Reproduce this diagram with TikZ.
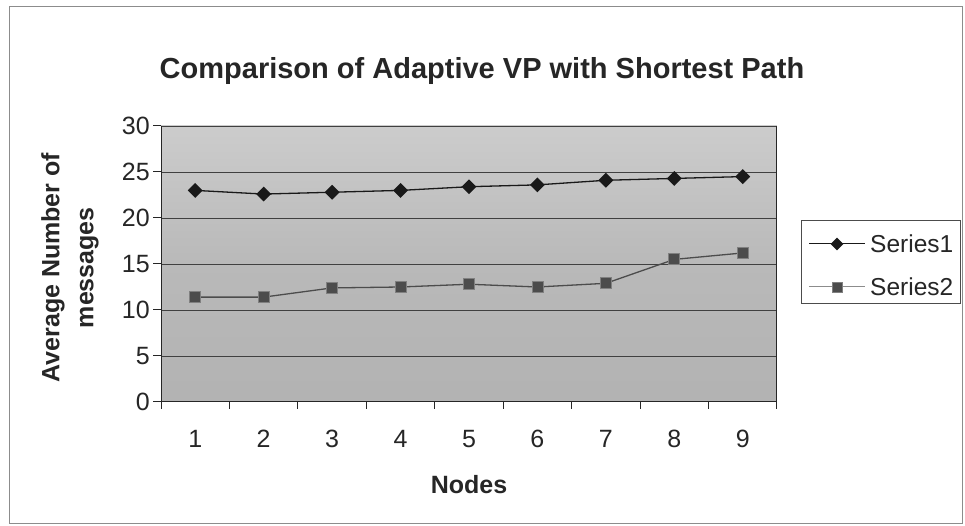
\documentclass[tikz,border=0pt]{standalone}
\usepackage{fontspec}
\setmainfont{Liberation Sans}
\usetikzlibrary{positioning, shapes.geometric}
\tikzset{
    grid line/.style={black!75, line width=0.9pt},
    tick label/.style={font=\fontsize{25}{28}\selectfont, text=black!85, inner sep=2pt},
    axis title/.style={font=\fontsize{25}{34}\selectfont\bfseries, text=black!85, inner sep=2pt, align=center},
    s1 mark/.style={diamond, fill=black!90, inner sep=0pt, minimum size=15pt},
    s2 mark/.style={rectangle, fill=black!70, draw=black!50, line width=0.8pt, inner sep=0pt, minimum size=11pt},
    s1 line/.style={black!90, line width=1.3pt},
    s2 line/.style={black!70, line width=1.3pt},
}

\begin{document}
\begin{tikzpicture}[x=1pt, y=1pt]
\useasboundingbox (0,0) rectangle (965,526);
\fill[white] (0,0) rectangle (965,526);

% chart frame
\draw[black!45, line width=0.8pt] (9,3) rectangle (962,520);

\node[font=\fontsize{29}{32}\selectfont\bfseries, text=black!85] (title) at (482,455)
    {Comparison of Adaptive VP with Shortest Path};

% plot area, one unit = one category / one message
\begin{scope}[shift={(161,124)}, x=68.44pt, y=9.2pt]
    \shade[top color=gray!40, bottom color=gray!60, middle color=gray!55] (0,0) rectangle (9,30);
    \foreach \v in {5,10,...,30}
        \draw[grid line] (0,\v) -- (9,\v);
    \draw[black!85, line width=1pt] (0,30) -- (0,0) -- (9,0) -- (9,30);

    % y ticks and labels
    \foreach \v in {0,5,...,30} {
        \draw[black!85, line width=1pt] (0,\v) -- ++(-8pt,0);
        \node[tick label, anchor=east] (yl\v) at ([xshift=-9pt]0,\v) {\v};
    }
    % x ticks and labels
    \foreach \i in {0,...,9}
        \draw[black!85, line width=1pt] (\i,0) -- ++(0,-7pt);
    \foreach \i in {1,...,9}
        \node[tick label] (xl\i) at ([yshift=-37pt]\i-0.5,0) {\i};

    \node[axis title, below=23pt of xl5] (xtitle) {Nodes};
    \node[axis title, rotate=90] (ytitle) at ([xshift=-91pt]0,14.6)
        {Average Number of\\messages};

    % data points
    \foreach \y [count=\i] in {23.0,22.6,22.8,23.0,23.4,23.6,24.1,24.3,24.5}
        \coordinate (a\i) at (\i-0.5,\y);
    \foreach \y [count=\i] in {11.4,11.4,12.4,12.5,12.8,12.5,12.9,15.5,16.2}
        \coordinate (b\i) at (\i-0.5,\y);

    \draw[s2 line] (b1) \foreach \i in {2,...,9} {-- (b\i)};
    \draw[s1 line] (a1) \foreach \i in {2,...,9} {-- (a\i)};
    \foreach \i in {1,...,9} {
        \node[s2 mark] (m2\i) at (b\i) {};
        \node[s1 mark] (m1\i) at (a\i) {};
    }
\end{scope}

% legend
\draw[black!70, line width=0.8pt] (801,223) rectangle (960,306);
\coordinate (k1w) at (809,282);
\coordinate (k1e) at (865,282);
\coordinate (k2w) at (809,239);
\coordinate (k2e) at (865,239);
\draw[s1 line, line width=1pt] (k1w) -- (k1e);
\draw[black!45, line width=1pt] (k2w) -- (k2e);
\node[s1 mark, minimum size=13pt] (k1) at (837,282) {};
\node[s2 mark, minimum size=10pt] (k2) at (837,239) {};
\node[tick label, font=\fontsize{24.5}{28}\selectfont, right=3pt of k1e] (series1) {Series1};
\node[tick label, font=\fontsize{24.5}{28}\selectfont, right=3pt of k2e] (series2) {Series2};
\end{tikzpicture}
\end{document}
